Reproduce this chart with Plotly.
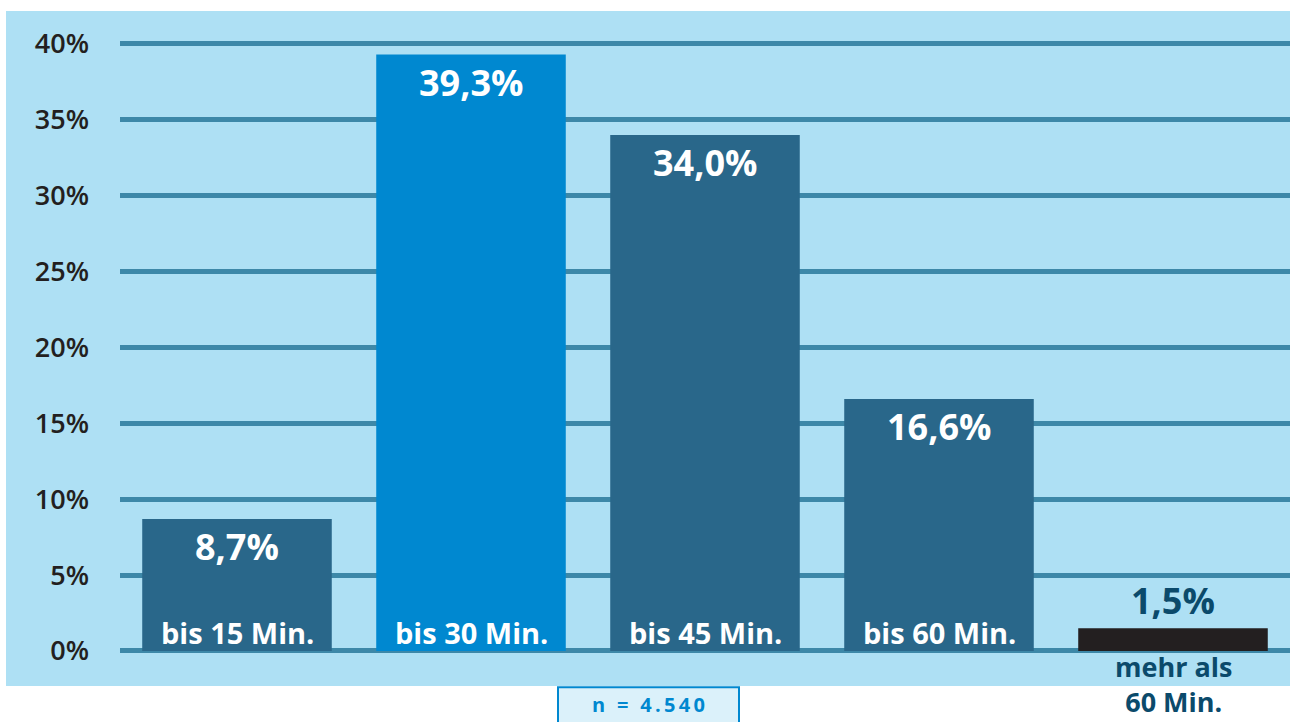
import plotly.graph_objects as go

# Commute duration shares
categories = ["bis 15 Min.", "bis 30 Min.", "bis 45 Min.", "bis 60 Min.", "mehr als<br>60 Min."]
values = [8.7, 39.3, 34.0, 16.6, 1.5]
value_labels = ["8,7%", "39,3%", "34,0%", "16,6%", "1,5%"]
tick_values = [0, 5, 10, 15, 20, 25, 30, 35, 40]
tick_labels = ["0%", "5%", "10%", "15%", "20%", "25%", "30%", "35%", "40%"]
sample_note = "n = 4.540"

BG = "#aee0f4"
GRID = "#3d88a8"
DARK = "#29678a"
BRIGHT = "#0088d0"
BLACK = "#231f20"
NAVY = "#0b4a6b"
FONT = "Open Sans"

bar_colors = [DARK, BRIGHT, DARK, DARK, BLACK]

fig = go.Figure()
fig.add_trace(go.Bar(
    x=categories, y=values,
    marker=dict(color=bar_colors, line=dict(width=0)),
    width=0.81,
    hoverinfo="skip",
))

# value and category labels
for i, (cat, v, lab) in enumerate(zip(categories, values, value_labels)):
    if v > 5:
        fig.add_annotation(x=cat, y=v, text=f"<b>{lab}</b>", showarrow=False,
                           yanchor="top", yshift=-1,
                           font=dict(family=FONT, size=36, color="white"))
        fig.add_annotation(x=cat, y=0, text=f"<b>{cat}</b>", showarrow=False,
                           yanchor="bottom", yshift=-3,
                           font=dict(family=FONT, size=29, color="white"))
    else:
        fig.add_annotation(x=cat, y=v, text=f"<b>{lab}</b>", showarrow=False,
                           yanchor="bottom", yshift=1,
                           font=dict(family=FONT, size=36, color=NAVY))
        fig.add_annotation(x=cat, y=0, text=f"<b>{cat}</b>", showarrow=False,
                           yanchor="top", yshift=5,
                           font=dict(family=FONT, size=27, color=NAVY))

# sample size box, letters spread with thin spaces
spaced_note = "\u2009".join(sample_note)
fig.add_shape(type="rect", xref="paper", yref="paper",
              x0=(558 - 120) / 1170, x1=(739 - 120) / 1170,
              y0=-0.06, y1=-0.002,
              fillcolor="#dbf1fa", line=dict(color=BRIGHT, width=2), layer="above")
fig.add_annotation(xref="paper", yref="paper", x=(648 - 120) / 1170, y=-0.028,
                   yanchor="middle", xanchor="center",
                   text=f"<b>{spaced_note}</b>", showarrow=False,
                   font=dict(family=FONT, size=20, color=BRIGHT))

# background extension behind the tick labels
fig.add_shape(type="rect", xref="paper", yref="paper",
              x0=(6 - 120) / 1170, x1=0, y0=0, y1=1,
              fillcolor=BG, line=dict(width=0), layer="below")

fig.update_layout(
    width=1290, height=722,
    margin=dict(l=120, r=0, t=11, b=36),
    paper_bgcolor="white",
    plot_bgcolor=BG,
    showlegend=False,
    xaxis=dict(showticklabels=False, showgrid=False, zeroline=False,
               range=[-0.5, 4.5], fixedrange=True),
    yaxis=dict(range=[-2.31, 42.17], tickvals=tick_values, ticktext=tick_labels,
               showgrid=True, gridcolor=GRID, gridwidth=5, zeroline=False,
               ticklabelstandoff=30,
               tickfont=dict(family=FONT, size=27, color=BLACK, weight=600)),
)

fig.write_html("out.html")
